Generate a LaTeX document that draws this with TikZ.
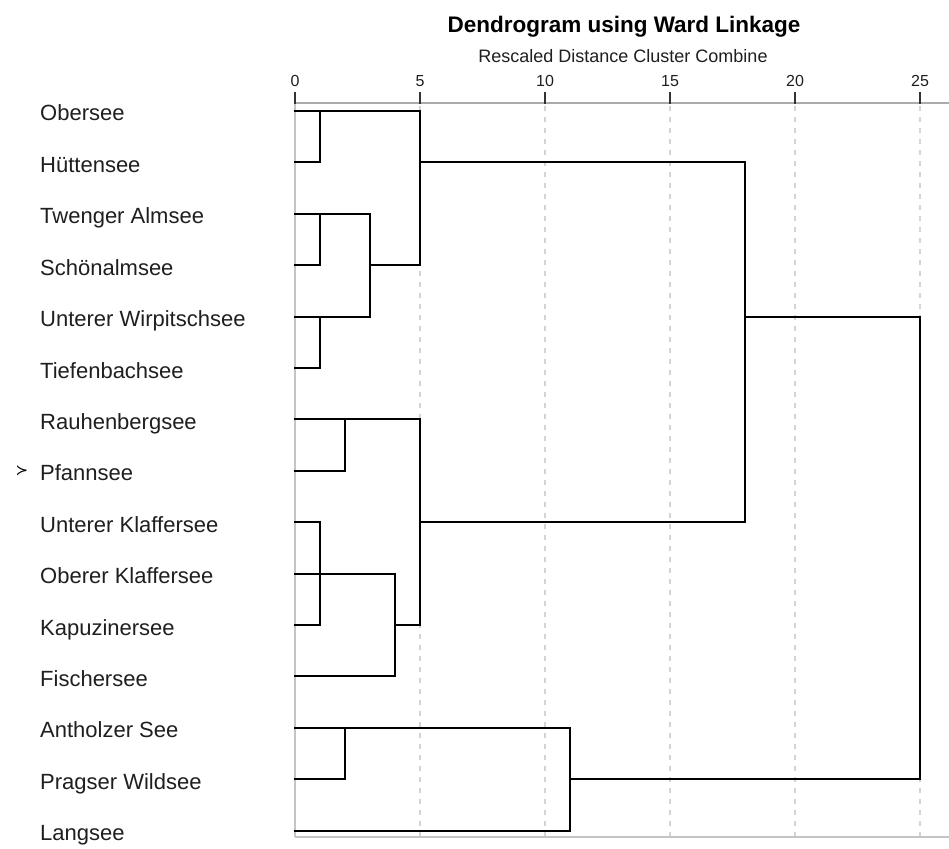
\documentclass[tikz,border=0pt]{standalone}
\usepackage{fontspec}
\setmainfont{Liberation Sans}
\newfontfamily\symfont{DejaVu Sans}
\definecolor{axisgray}{HTML}{ABABAB}
\definecolor{framegray}{HTML}{C4C4C4}
\definecolor{dashgray}{HTML}{D4D4D4}
\definecolor{tickblack}{HTML}{333333}
\begin{document}
\begin{tikzpicture}[x=1pt,y=-1pt,
  dend/.style={line width=2pt, black, line cap=rect, line join=miter},
  frameline/.style={line width=1.5pt, framegray},
  axisline/.style={line width=2pt, axisgray},
  gridline/.style={line width=1.5pt, dashgray, dash pattern=on 5pt off 6pt},
  tickmark/.style={line width=2.5pt, tickblack},
  lbl/.style={anchor=base west, inner sep=0pt, font=\fontsize{22}{22}\selectfont, text=black!88},
  ticklbl/.style={anchor=base, inner sep=0pt, font=\fontsize{16}{16}\selectfont, text=black!88},
  ttl/.style={anchor=base, inner sep=0pt, font=\fontsize{22.5}{22.5}\selectfont\bfseries},
  subttl/.style={anchor=base, inner sep=0pt, font=\fontsize{18}{18}\selectfont, text=black!88}]
\useasboundingbox[fill=white] (0,0) rectangle (949,848);

% leaf start coordinates and merge columns
\foreach \i in {0,...,14} { \coordinate (s\i) at (295, {111+51.4*\i}); }
\foreach \u in {0,1,2,3,4,5,11,18,25} { \coordinate (X\u) at ({295+25*\u}, 0); }

% title
\node[ttl] (title) at (624,33) {Dendrogram using Ward Linkage};
\node[subttl] (subtitle) at (623,62.5) {Rescaled Distance Cluster Combine};

% frame, grid, axis
\draw[gridline] (420,106) -- (420,836);
\draw[gridline] (545,106) -- (545,836);
\draw[gridline] (670,106) -- (670,836);
\draw[gridline] (795,106) -- (795,836);
\draw[gridline] (920,106) -- (920,836);
\draw[frameline] (295,103) -- (295,837);
\draw[frameline] (295,837) -- (949,837);
\draw[axisline] (295,103) -- (949,103);
\foreach \k in {0,5,10,15,20,25} {
  \draw[tickmark] ({295+25*\k},92) -- ({295+25*\k},104);
  \node[ticklbl] (t\k) at ({295+25*\k},86.7) {\k};
}

% leaf labels
\node[lbl] (n0)  at (40,{111+51.4*0+10})  {Obersee};
\node[lbl] (n1)  at (40,{111+51.4*1+10})  {Hüttensee};
\node[lbl] (n2)  at (40,{111+51.4*2+10})  {Twenger Almsee};
\node[lbl] (n3)  at (40,{111+51.4*3+10})  {Schönalmsee};
\node[lbl] (n4)  at (40,{111+51.4*4+10})  {Unterer Wirpitschsee};
\node[lbl] (n5)  at (40,{111+51.4*5+10})  {Tiefenbachsee};
\node[lbl] (n6)  at (40,{111+51.4*6+10})  {Rauhenbergsee};
\node[lbl] (n7)  at (40,{111+51.4*7+10})  {Pfannsee};
\node[lbl] (n8)  at (40,{111+51.4*8+10})  {Unterer Klaffersee};
\node[lbl] (n9)  at (40,{111+51.4*9+10})  {Oberer Klaffersee};
\node[lbl] (n10) at (40,{111+51.4*10+10}) {Kapuzinersee};
\node[lbl] (n11) at (40,{111+51.4*11+10}) {Fischersee};
\node[lbl] (n12) at (40,{111+51.4*12+10}) {Antholzer See};
\node[lbl] (n13) at (40,{111+51.4*13+10}) {Pragser Wildsee};
\node[lbl] (n14) at (40,{111+51.4*14+10}) {Langsee};
\node[inner sep=0pt, font=\symfont\fontsize{15}{15}\selectfont] (mark) at (22,{111+51.4*7}) {≻};

% cluster A
\draw[dend] (s0) -- (s0 -| X5);
\draw[dend] (s1) -- (s1 -| X1);
\draw[dend] (s0 -| X1) -- (s1 -| X1);
\draw[dend] (s2) -- (s2 -| X3);
\draw[dend] (s3) -- (s3 -| X1);
\draw[dend] (s2 -| X1) -- (s3 -| X1);
\draw[dend] (s4) -- (s4 -| X3);
\draw[dend] (s5) -- (s5 -| X1);
\draw[dend] (s4 -| X1) -- (s5 -| X1);
\draw[dend] (s2 -| X3) -- (s4 -| X3);
\draw[dend] (s3 -| X3) -- (s3 -| X5);
\draw[dend] (s0 -| X5) -- (s3 -| X5);
\draw[dend] (s1 -| X5) -- (s1 -| X18);
% cluster B
\draw[dend] (s6) -- (s6 -| X5);
\draw[dend] (s7) -- (s7 -| X2);
\draw[dend] (s6 -| X2) -- (s7 -| X2);
\draw[dend] (s8) -- (s8 -| X1);
\draw[dend] (s10) -- (s10 -| X1);
\draw[dend] (s8 -| X1) -- (s10 -| X1);
\draw[dend] (s9) -- (s9 -| X4);
\draw[dend] (s11) -- (s11 -| X4);
\draw[dend] (s9 -| X4) -- (s11 -| X4);
\draw[dend] (s10 -| X4) -- (s10 -| X5);
\draw[dend] (s6 -| X5) -- (s10 -| X5);
\draw[dend] (s8 -| X5) -- (s8 -| X18);
\draw[dend] (s1 -| X18) -- (s8 -| X18);
\draw[dend] (s4 -| X18) -- (s4 -| X25);
% cluster C
\draw[dend] (s12) -- (s12 -| X11);
\draw[dend] (s13) -- (s13 -| X2);
\draw[dend] (s12 -| X2) -- (s13 -| X2);
\draw[dend] (s14) -- (s14 -| X11);
\draw[dend] (s12 -| X11) -- (s14 -| X11);
\draw[dend] (s13 -| X11) -- (s13 -| X25);
\draw[dend] (s4 -| X25) -- (s13 -| X25);
\end{tikzpicture}
\end{document}
